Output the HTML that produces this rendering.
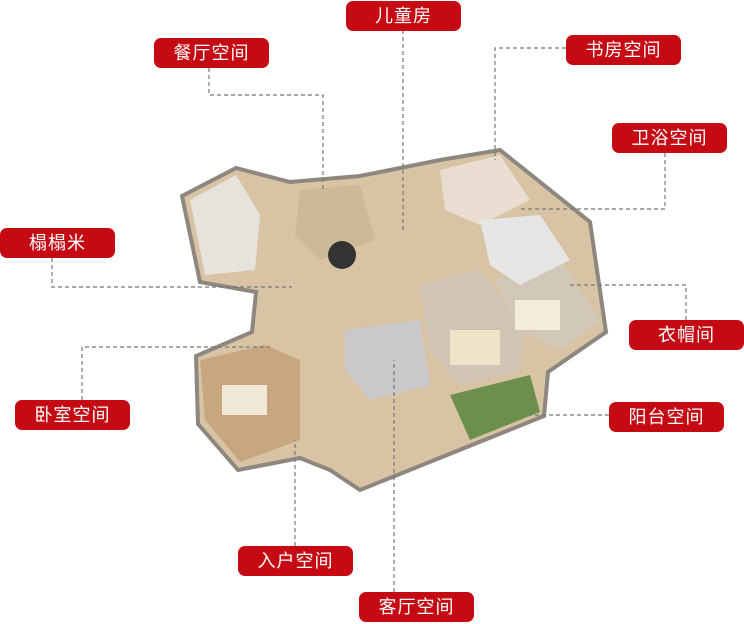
<!DOCTYPE html>
<html><head><meta charset="utf-8"><style>
html,body{margin:0;padding:0;background:#fff;}
body{width:744px;height:624px;position:relative;overflow:hidden;font-family:"Liberation Sans","Noto Sans CJK SC",sans-serif;}
.tag{position:absolute;height:30px;width:115px;background:#c50a14;color:#fff;border-radius:7px;font-size:18px;line-height:30px;text-align:center;letter-spacing:1px;}
svg{position:absolute;left:0;top:0;}
</style></head><body>
<svg width="744" height="624" viewBox="0 0 744 624">
  <!-- floor plan base -->
  <polygon points="182,196 236,168 290,182 360,176 440,160 500,150 590,222 606,332 548,372 544,416 360,490 330,470 300,458 238,470 198,424 196,356 252,332 256,292 200,282" fill="#d8c4a4"/>
  <polygon points="182,196 236,168 290,182 360,176 440,160 500,150 590,222 606,332 548,372 544,416 360,490 330,470 300,458 238,470 198,424 196,356 252,332 256,292 200,282" fill="none" stroke="#8d8780" stroke-width="4"/>
  <!-- rooms -->
  <polygon points="200,360 265,345 300,360 300,440 240,462 205,420" fill="#c7a780"/>
  <polygon points="420,285 480,270 525,330 520,370 460,385 430,350" fill="#cfc4b6"/>
  <polygon points="495,280 560,260 600,320 560,350 520,330" fill="#d2c8ba"/>
  <polygon points="440,170 500,155 530,200 480,225 445,210" fill="#e8ddd0"/>
  <polygon points="480,220 540,215 570,260 520,285 490,265" fill="#e6e6e6"/>
  <polygon points="300,190 360,185 375,240 320,260 295,235" fill="#cdb996"/>
  <polygon points="190,200 236,175 260,215 255,270 205,275" fill="#e6e2dc"/>
  <polygon points="345,330 420,320 430,385 370,400 345,370" fill="#c9c9cc"/>
  <polygon points="450,395 530,375 540,412 470,440" fill="#6c8f4e"/>
  <circle cx="342" cy="255" r="14" fill="#333"/>
  <rect x="450" y="330" width="50" height="35" fill="#eee5c8"/>
  <rect x="515" y="300" width="45" height="30" fill="#f2edd8"/>
  <rect x="222" y="385" width="45" height="30" fill="#efe7d8"/>
  <g fill="none" stroke="#777" stroke-dasharray="4,3" stroke-width="1.2">
    <polyline points="403,30 403,232"/>
    <polyline points="209,68 209,95 323,95 323,192"/>
    <polyline points="566,48 495,48 495,160"/>
    <polyline points="665,153 665,209 520,209"/>
    <polyline points="52,258 52,287 292,287"/>
    <polyline points="686,320 686,285 570,285"/>
    <polyline points="82,400 82,347 270,347"/>
    <polyline points="609,415 530,415"/>
    <polyline points="295,546 295,440"/>
    <polyline points="394,592 394,360"/>
  </g>
</svg>
<div class="tag" style="left:346px;top:1px;">儿童房</div>
<div class="tag" style="left:154px;top:38px;">餐厅空间</div>
<div class="tag" style="left:566px;top:35px;">书房空间</div>
<div class="tag" style="left:612px;top:123px;">卫浴空间</div>
<div class="tag" style="left:0px;top:228px;">榻榻米</div>
<div class="tag" style="left:629px;top:320px;">衣帽间</div>
<div class="tag" style="left:15px;top:400px;">卧室空间</div>
<div class="tag" style="left:609px;top:402px;">阳台空间</div>
<div class="tag" style="left:238px;top:546px;">入户空间</div>
<div class="tag" style="left:359px;top:592px;">客厅空间</div>
</body></html>
